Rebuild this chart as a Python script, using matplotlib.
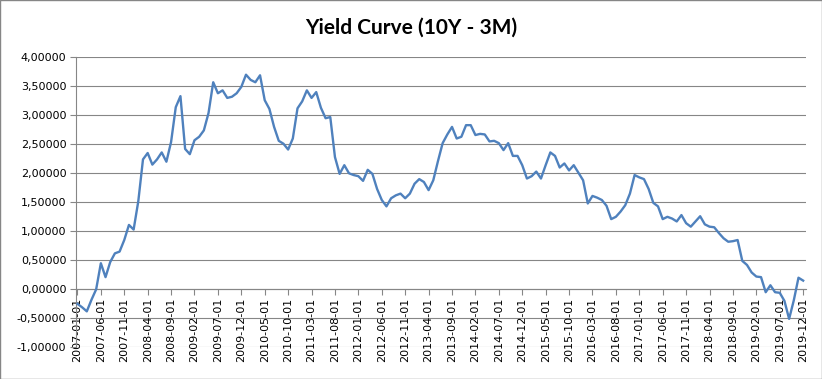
import matplotlib
matplotlib.use("Agg")
import matplotlib.pyplot as plt
import pandas as pd
from matplotlib.patches import Rectangle

# monthly 10Y - 3M spread, Jan 2007 .. Dec 2019
start_month = "2007-01-01"
spread = [
    -0.25, -0.31, -0.38, -0.18, 0.00, 0.45, 0.21, 0.47, 0.62, 0.65, 0.85, 1.11,
    1.03, 1.52, 2.24, 2.35, 2.15, 2.24, 2.36, 2.20, 2.54, 3.14, 3.33, 2.42,
    2.33, 2.57, 2.63, 2.74, 3.04, 3.57, 3.38, 3.43, 3.30, 3.32, 3.38, 3.49,
    3.70, 3.61, 3.57, 3.69, 3.26, 3.11, 2.80, 2.56, 2.51, 2.41, 2.60, 3.12,
    3.24, 3.43, 3.30, 3.40, 3.13, 2.95, 2.97, 2.28, 1.99, 2.14, 2.00, 1.97,
    1.95, 1.87, 2.06, 1.99, 1.73, 1.54, 1.43, 1.57, 1.62, 1.65, 1.57, 1.65,
    1.82, 1.90, 1.85, 1.71, 1.88, 2.21, 2.52, 2.67, 2.80, 2.60, 2.63, 2.83,
    2.83, 2.66, 2.68, 2.67, 2.55, 2.56, 2.52, 2.40, 2.52, 2.30, 2.30, 2.14,
    1.91, 1.95, 2.03, 1.91, 2.14, 2.36, 2.30, 2.10, 2.17, 2.05, 2.14, 2.01,
    1.88, 1.48, 1.61, 1.58, 1.54, 1.44, 1.21, 1.25, 1.34, 1.45, 1.65, 1.97,
    1.93, 1.90, 1.73, 1.49, 1.43, 1.21, 1.25, 1.22, 1.17, 1.28, 1.14, 1.08,
    1.17, 1.26, 1.12, 1.08, 1.07, 0.97, 0.88, 0.82, 0.83, 0.85, 0.49, 0.42,
    0.29, 0.22, 0.21, -0.05, 0.07, -0.05, -0.06, -0.20, -0.51, -0.19, 0.20, 0.15,
]
label_step = 5
y_ticks = [-1.0, -0.5, 0.0, 0.5, 1.0, 1.5, 2.0, 2.5, 3.0, 3.5, 4.0]

dates = pd.date_range(start_month, periods=len(spread), freq="MS")
x = list(range(len(spread)))

fig = plt.figure(figsize=(8.22, 3.79), dpi=100)
ax = fig.add_axes([0.0925, 0.0836, 0.888, 0.7652])

grid_col = "#868686"
# category axis crosses at zero, like Excel; do this before setting ticks
for s in ["top", "right"]:
    ax.spines[s].set_visible(False)
ax.spines["bottom"].set_position(("data", 0))
ax.spines["bottom"].set_color(grid_col)
ax.spines["left"].set_color(grid_col)

for v in y_ticks:
    ax.axhline(v, color=grid_col, lw=0.8, zorder=1)

ax.plot(x, spread, color="#4F81BD", lw=1.7, zorder=3)

ax.set_xlim(-0.3, 155.6)
ax.set_ylim(-1.0, 4.0)

ax.set_yticks(y_ticks)
ax.set_yticklabels([f"{v:.5f}".replace(".", ",") for v in y_ticks], fontsize=8)

pos = x[::label_step]
ax.set_xticks(pos)
ax.set_xticklabels([dates[i].strftime("%Y-%m-%d") for i in pos],
                   rotation=90, fontsize=8, va="top", ha="center")

ax.tick_params(axis="both", colors=grid_col, labelcolor="black", length=4, width=0.8)
ax.tick_params(axis="x", pad=2)
ax.tick_params(axis="y", pad=3)

fig.text(0.5, 0.926, "Yield Curve (10Y - 3M)", ha="center", va="center",
         fontsize=15, fontweight="bold", family="Lato")

fig.patches.append(Rectangle((0.0006, 0.0013), 0.9988, 0.9974, transform=fig.transFigure,
                             fill=False, edgecolor=grid_col, lw=1.0))

fig.savefig("out.png", dpi=100)
